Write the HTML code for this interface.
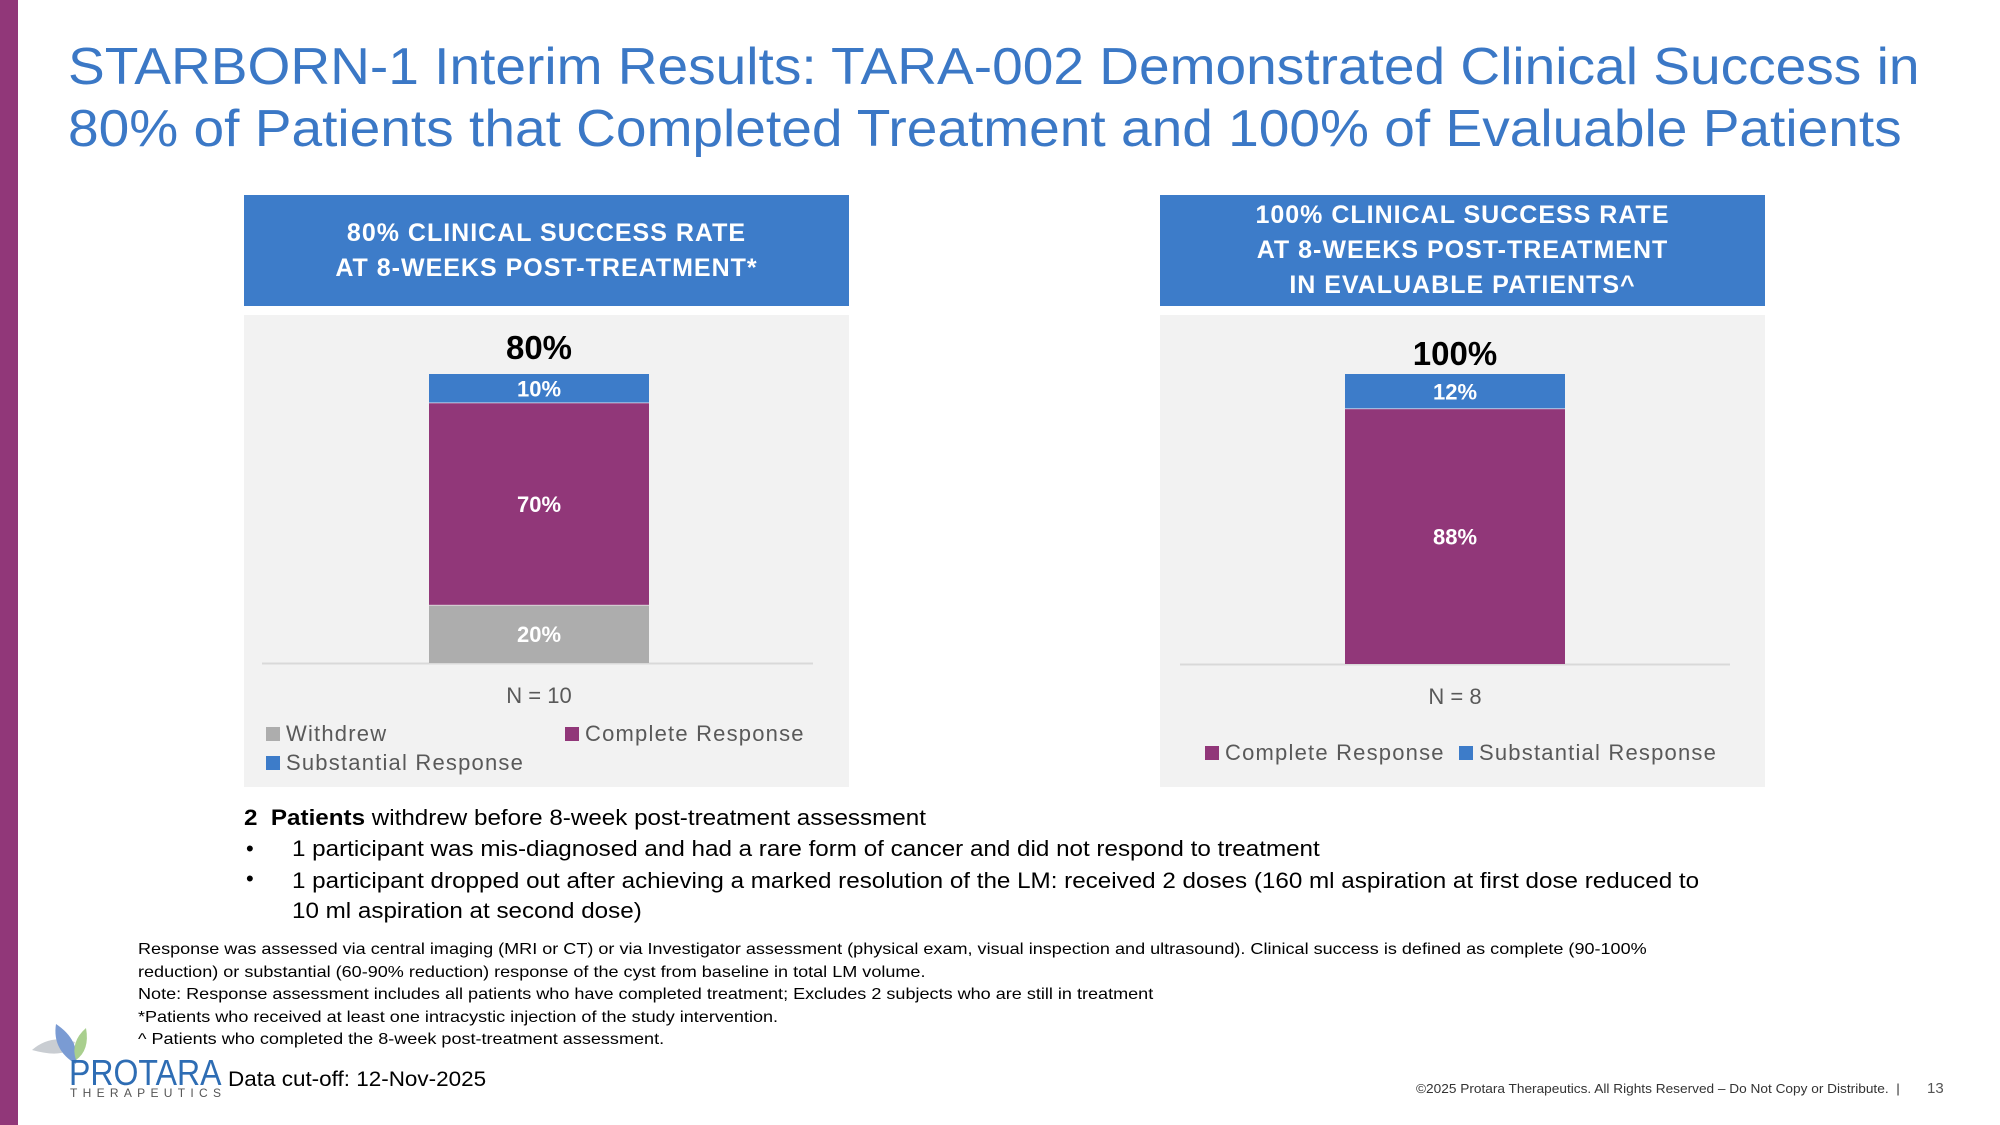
<!DOCTYPE html>
<html><head><meta charset="utf-8">
<style>
*{margin:0;padding:0;box-sizing:border-box}
body{width:2000px;height:1125px;position:relative;background:#fff;font-family:"Liberation Sans",sans-serif;overflow:hidden;color:#000}
.abs{position:absolute;white-space:nowrap;transform-origin:0 0}
.title{left:68px;font-size:52px;color:#3B78C6;line-height:62px;transform:scaleX(1.059)}
.hdr{background:#3D7CC9;color:#fff;font-weight:bold;font-size:25px;text-align:center;display:flex;align-items:center;justify-content:center;line-height:35px;letter-spacing:1px}
.panel{background:#F2F2F2}
.fn{left:138px;font-size:16px;line-height:22px;transform:scaleX(1.128)}
.bt{font-size:22px;transform:scaleX(1.1)}
</style></head><body>
<div class="abs" style="left:0;top:0;width:18px;height:1125px;background:#913779"></div>
<div class="abs title" style="top:36px">STARBORN-1 Interim Results: TARA-002 Demonstrated Clinical Success in</div>
<div class="abs title" style="top:98px">80% of Patients that Completed Treatment and 100% of Evaluable Patients</div>

<div class="abs hdr" style="left:244px;top:195px;width:605px;height:111px">80% CLINICAL SUCCESS RATE<br>AT 8-WEEKS POST-TREATMENT*</div>
<div class="abs hdr" style="left:1160px;top:195px;width:605px;height:111px">100% CLINICAL SUCCESS RATE<br>AT 8-WEEKS POST-TREATMENT<br>IN EVALUABLE PATIENTS^</div>
<div class="abs panel" style="left:244px;top:315px;width:605px;height:472px"></div>
<div class="abs panel" style="left:1160px;top:315px;width:605px;height:472px"></div>

<svg class="abs" id="charts" style="left:0;top:0" width="2000" height="1125" font-family="Liberation Sans, sans-serif"></svg>

<div class="abs bt" style="left:244px;top:805px"><b>2&nbsp; Patients</b> withdrew before 8-week post-treatment assessment</div>
<div class="abs" style="left:246px;top:836px;font-size:22px">•</div>
<div class="abs bt" style="left:292px;top:836px">1 participant was mis-diagnosed and had a rare form of cancer and did not respond to treatment</div>
<div class="abs" style="left:246px;top:866px;font-size:22px">•</div>
<div class="abs bt" style="left:292px;top:866px;line-height:30px">1 participant dropped out after achieving a marked resolution of the LM: received 2 doses (160 ml aspiration at first dose reduced to<br>10 ml aspiration at second dose)</div>

<div class="abs fn" style="top:939px">Response was assessed via central imaging (MRI or CT) or via Investigator assessment (physical exam, visual inspection and ultrasound). Clinical success is defined as complete (90-100%</div>
<div class="abs fn" style="top:962px">reduction) or substantial (60-90% reduction) response of the cyst from baseline in total LM volume.</div>
<div class="abs fn" style="top:984px">Note: Response assessment includes all patients who have completed treatment; Excludes 2 subjects who are still in treatment</div>
<div class="abs fn" style="top:1007px">*Patients who received at least one intracystic injection of the study intervention.</div>
<div class="abs fn" style="top:1029px">^ Patients who completed the 8-week post-treatment assessment.</div>

<svg class="abs" style="left:30px;top:1020px" width="60" height="50">
<path d="M2 30 Q20 14 45 22 Q38 40 2 30Z" fill="#C9CDD2"/>
<path d="M26 4 Q50 20 46 44 Q22 30 26 4Z" fill="#7A9BD3"/>
<path d="M56 8 Q60 30 46 40 Q40 22 56 8Z" fill="#A9CF8E"/>
</svg>
<div class="abs" style="left:69px;top:1052px;font-size:36px;color:#2E6DB4;transform:scaleX(0.89)">PROTARA</div>
<div class="abs" style="left:70px;top:1086px;font-size:12px;color:#555;letter-spacing:5.3px">THERAPEUTICS</div>
<div class="abs" style="left:228px;top:1068px;font-size:21px;transform:scaleX(1.07)">Data cut-off: 12-Nov-2025</div>
<div class="abs" style="left:1416px;top:1081px;font-size:13px;color:#333;transform:scaleX(1.05)">©2025 Protara Therapeutics. All Rights Reserved – Do Not Copy or Distribute.&nbsp; |</div>
<div class="abs" style="left:1927px;top:1080px;font-size:15px;color:#555">13</div>

<script>
const leftCategories = ["Withdrew","Complete Response","Substantial Response"];
const leftValues = [20,70,10];
const leftColors = ["#ADADAD","#913779","#3D7CC9"];
const rightCategories = ["Complete Response","Substantial Response"];
const rightValues = [88,12];
const rightColors = ["#913779","#3D7CC9"];
const leftTotalLabel = "80%";
const rightTotalLabel = "100%";
const leftN = "N = 10";
const rightN = "N = 8";
const NS="http://www.w3.org/2000/svg";
const svg=document.getElementById('charts');
function mk(t,a){const e=document.createElementNS(NS,t);for(const k in a)e.setAttribute(k,a[k]);svg.appendChild(e);return e;}
function drawChart(cfg){
  const y=v=>cfg.base-(v/100)*(cfg.base-cfg.top);
  const ax=mk('line',{x1:cfg.axL,x2:cfg.axR,y1:cfg.base+0.5,y2:cfg.base+0.5,stroke:'#D9D9D9','stroke-width':2});
  
  
  let cum=0;
  cfg.values.forEach((v,i)=>{
    const y0=y(cum), y1=y(cum+v);
    const r=mk('rect',{x:cfg.bx,y:y1,width:cfg.bw,height:y0-y1,fill:cfg.colors[i]});
    
    
    if(i>0){mk('line',{x1:cfg.bx,x2:cfg.bx+cfg.bw,y1:y0,y2:y0,stroke:'#fff','stroke-width':1,'stroke-opacity':0.6});}
    const t=mk('text',{x:cfg.bx+cfg.bw/2,y:(y0+y1)/2+8,'text-anchor':'middle',fill:'#fff','font-weight':'bold','font-size':22});
    t.textContent=v+'%';
    
    
    cum+=v;
  });
  const tt=mk('text',{x:cfg.bx+cfg.bw/2,y:cfg.totY,'text-anchor':'middle','font-weight':'bold','font-size':33,fill:'#000'});
  tt.textContent=cfg.total;
  
  
  const n=mk('text',{x:cfg.bx+cfg.bw/2,y:cfg.base+40,'text-anchor':'middle','font-size':22,fill:'#595959'});
  n.textContent=cfg.n;
  
  
  cfg.legend.forEach((L)=>{
    const i=L[0];
    const s=mk('rect',{x:L[1],y:L[2]-13,width:14,height:14,fill:cfg.colors[i]});
    
    
    const lt=mk('text',{x:L[1]+20,y:L[2]+1,'font-size':22,fill:'#595959','letter-spacing':1.2});
    lt.textContent=cfg.cats[i];
    
    
  });
}
drawChart({id:'left',values:leftValues,colors:leftColors,cats:leftCategories,base:663,top:374,bx:429,bw:220,axL:262,axR:813,total:leftTotalLabel,totY:359,n:leftN,
  legend:[[0,266,740],[1,565,740],[2,266,769]]});
drawChart({id:'right',values:rightValues,colors:rightColors,cats:rightCategories,base:664,top:374,bx:1345,bw:220,axL:1180,axR:1730,total:rightTotalLabel,totY:365,n:rightN,
  legend:[[0,1205,759],[1,1459,759]]});
</script>
</body></html>
